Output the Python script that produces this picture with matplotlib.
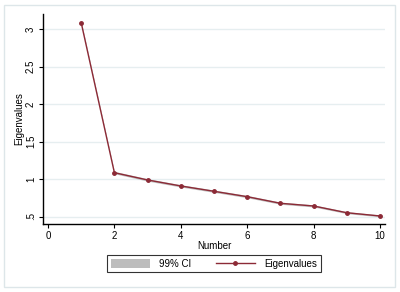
import numpy as np
import matplotlib
matplotlib.use("Agg")
import matplotlib.pyplot as plt
from matplotlib.patches import Rectangle

plt.rcParams['font.family'] = ['Liberation Sans', 'DejaVu Sans']

number = [1, 2, 3, 4, 5, 6, 7, 8, 9, 10]
eigenvalues = [3.084, 1.084, 0.987, 0.907, 0.836, 0.764, 0.676, 0.64, 0.55, 0.507]
ci_lower = [3.065, 1.070, 0.972, 0.893, 0.822, 0.750, 0.663, 0.627, 0.538, 0.496]
ci_upper = [3.105, 1.102, 1.004, 0.924, 0.853, 0.781, 0.692, 0.656, 0.565, 0.520]
yticks = [0.5, 1, 1.5, 2, 2.5, 3]
ytick_labels = ['.5', '1', '1.5', '2', '2.5', '3']
xticks = [0, 2, 4, 6, 8, 10]

line_color = '#8C2A36'
grid_color = '#E6EEF0'

fig = plt.figure(figsize=(4, 2.92), dpi=100)
fig.patch.set_facecolor('white')
fig.patches.append(Rectangle((4 / 400, 5 / 292), 391 / 400, 282 / 292, transform=fig.transFigure,
                             fill=False, edgecolor='#DDE6E9', lw=1))

ax = fig.add_axes([43 / 400, 1 - 224 / 292, 342 / 400, 210 / 292])
ax.fill_between(number, ci_lower, ci_upper, color='#BDBDBD', lw=0, label='99% CI')
ax.plot(number, eigenvalues, color=line_color, lw=1, marker='o', ms=2.5, label='Eigenvalues')

ax.set_xlim(-0.15, 10.15)
ax.set_ylim(0.4, 3.2)
ax.set_yticks(yticks)
ax.set_yticklabels(ytick_labels, rotation=90, va='center')
ax.set_xticks(xticks)
ax.grid(axis='y', color=grid_color, lw=1)
ax.set_axisbelow(True)
for s in ['top', 'right']:
    ax.spines[s].set_visible(False)
ax.spines['left'].set_linewidth(1)
ax.spines['bottom'].set_linewidth(1)
ax.tick_params(labelsize=7, length=3, width=0.8, pad=2)
ax.set_xlabel('Number', fontsize=7, labelpad=0)
ax.set_ylabel('Eigenvalues', fontsize=7, labelpad=1)

leg = ax.legend(loc='upper center', bbox_to_anchor=(0.5, -0.125), ncol=2, fontsize=7,
                frameon=True, fancybox=False, edgecolor='black', handlelength=4,
                handleheight=1.2, columnspacing=2.5, borderpad=0.35, handletextpad=1.0)
leg.get_frame().set_linewidth(0.8)

fig.savefig('out.png', dpi=100)
